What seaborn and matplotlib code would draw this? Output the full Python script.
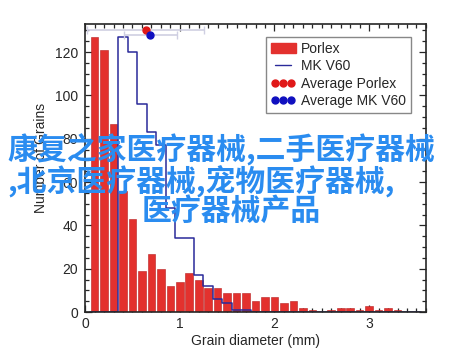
"""Grain size distribution: Porlex vs MK V60."""

import numpy as np
import matplotlib
matplotlib.use("Agg")
import matplotlib.pyplot as plt
from matplotlib.patches import Patch
from matplotlib.lines import Line2D
from matplotlib.ticker import MultipleLocator
import seaborn as sns

# bin centres (mm)
DIAMETER = [0.1, 0.2, 0.3, 0.4, 0.5, 0.6, 0.7, 0.8, 0.9, 1.0,
            1.1, 1.2, 1.3, 1.4, 1.5, 1.6, 1.7, 1.8, 1.9, 2.0,
            2.1, 2.2, 2.3, 2.4, 2.5, 2.6, 2.7, 2.8, 2.9, 3.0,
            3.1, 3.2, 3.3, 3.4, 3.5]
PORLEX = [127, 121, 87, 56, 43, 19, 27, 20, 12, 14,
          18, 15, 11, 11, 9, 9, 9, 5, 7, 7,
          4, 5, 2, 1, 0, 1, 2, 2, 1, 3,
          1, 2, 1, 0, 0]
MK_V60 = [0, 0, 0, 127, 120, 96, 83, 77, 48, 34,
          34, 17, 12, 6, 4, 1, 1, 0, 0, 0,
          0, 0, 0, 0, 0, 0, 0, 0, 0, 0,
          0, 0, 0, 0, 0]

# averages with standard deviation
AVG_NAMES = ["Average Porlex", "Average MK V60"]
AVG_X = [0.64, 0.69]
AVG_SD = [0.62, 0.28]
AVG_Y = [130, 128]

RED = "#e3312e"
NAVY = "#2a2a9a"
DOT_RED = "#e01818"
DOT_BLUE = "#1010c0"

edges = [d - 0.05 for d in DIAMETER] + [DIAMETER[-1] + 0.05]

sns.set_style("ticks")
plt.rcParams["font.family"] = ["Liberation Sans", "DejaVu Sans"]

fig = plt.figure(figsize=(4.6, 3.54), dpi=100)
ax = fig.add_axes([0.185, 0.1186, 0.741, 0.8136])

sns.histplot(x=DIAMETER, weights=PORLEX, bins=edges, shrink=0.8, color=RED,
             alpha=1, edgecolor="#b82020", linewidth=0.4, ax=ax)
sns.histplot(x=DIAMETER, weights=MK_V60, bins=edges, element="step",
             fill=False, color=NAVY, linewidth=1.1, ax=ax)

for x, sd, y, c in zip(AVG_X, AVG_SD, AVG_Y, [DOT_RED, DOT_BLUE]):
    ax.errorbar(x, y, xerr=sd, fmt="o", color=c, ecolor="#cfcfe2",
                elinewidth=1.2, capsize=3, markersize=5, zorder=4)

ax.set_xlim(0, 3.6)
ax.set_ylim(0, 133)
ax.xaxis.set_major_locator(MultipleLocator(1))
ax.xaxis.set_minor_locator(MultipleLocator(0.1))
ax.yaxis.set_major_locator(MultipleLocator(20))
ax.yaxis.set_minor_locator(MultipleLocator(5))
ax.tick_params(which="both", direction="in", top=True, right=True,
               labelsize=10, width=0.9, zorder=5)
ax.tick_params(which="major", length=5)
ax.tick_params(which="minor", length=3)
ax.tick_params(axis="y", pad=5)
for s in ax.spines.values():
    s.set_linewidth(1.2)
    s.set_zorder(6)

ax.set_xlabel("Grain diameter (mm)", fontsize=10, labelpad=2)
ax.set_ylabel("Number of Grains", fontsize=10)
ax.yaxis.set_label_coords(-0.11, 0.535)

handles = [
    Patch(facecolor=RED, edgecolor=RED),
    Line2D([], [], color=NAVY, linewidth=1),
    Line2D([], [], color=DOT_RED, marker="o", linestyle="none", markersize=5),
    Line2D([], [], color=DOT_BLUE, marker="o", linestyle="none", markersize=5),
]
leg = ax.legend(handles, ["Porlex", "MK V60"] + AVG_NAMES, loc="upper right",
                bbox_to_anchor=(0.956, 0.955), fontsize=10, numpoints=3,
                fancybox=False, framealpha=1, edgecolor="#888888",
                labelspacing=0.25, handlelength=1.8, handletextpad=0.4,
                borderpad=0.35, borderaxespad=0)
leg.get_frame().set_linewidth(1)

# overlaid watermark text
WM = ["康复之家医疗器械,二手医疗器械", ",北京医疗器械,宠物医疗器械,", "医疗器械产品"]
WM_POS = [(7, 150), (7, 182), (142, 211)]
for txt, (px, py) in zip(WM, WM_POS):
    fig.text(px / 460, 1 - py / 354, txt, ha="left", va="center",
             fontsize=21.5, fontweight="bold", color="#2a8cf0",
             family=["Noto Sans CJK SC", "DejaVu Sans"], zorder=10)

fig.savefig("out.png", dpi=100)
